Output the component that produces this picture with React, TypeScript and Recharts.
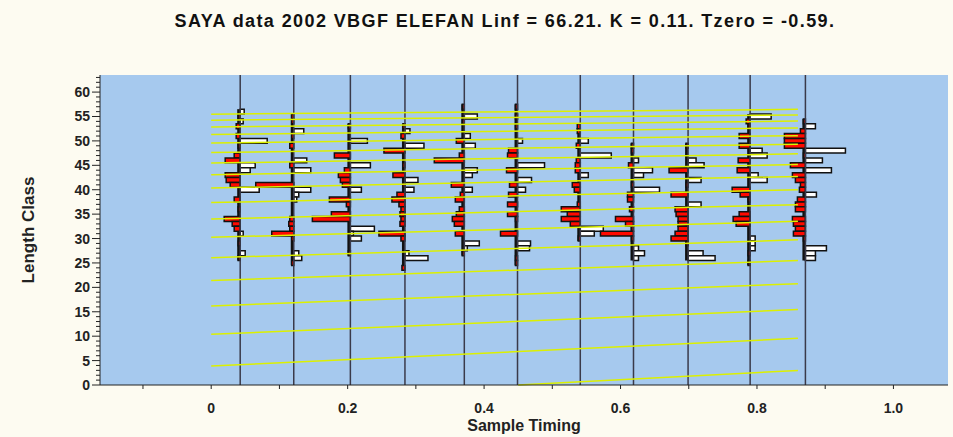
import React from 'react';
import { ComposedChart, XAxis, YAxis, CartesianGrid, ReferenceArea, ReferenceLine, Label } from 'recharts';

const PX_PER_UNIT = 682; // bar widths read in pixels, converted to x units

const sampleTimes = [0.0425, 0.121, 0.204, 0.284, 0.371, 0.449, 0.541, 0.619, 0.699, 0.79, 0.871];

// [length class, restructured score in px] negative = red (left), positive = white (right)
const s1 = [[56,4],[55,-2],[54,3],[53,-4],[51,-4],[50,27],[49,-2],[47,-6],[46,-15],[45,15],[44,10],[43,-15],[42,-14],[41,-10],[40,19],[38,-6],[36,-2],[34,-16],[33,-8],[32,-6],[31,3],[29,-2],[27,5],[26,-2]];
const s2 = [[55,-2],[54,-2],[52,10],[51,-2],[49,-4],[46,13],[45,-4],[44,17],[41,-38],[40,17],[39,5],[38,3],[34,-4],[33,-5],[32,-4],[31,-22],[30,-2],[27,5],[26,8],[25,-2]];
const s3 = [[53,-2],[50,17],[47,-16],[45,20],[44,-6],[43,-12],[42,-10],[41,-8],[40,11],[38,-21],[37,-4],[35,-19],[34,-38],[32,24],[31,3],[30,11],[27,-2]];
const s4 = [[53,-2],[52,5],[51,-4],[49,19],[48,-21],[45,-2],[43,-12],[42,13],[41,-2],[40,9],[39,-8],[38,-13],[37,-6],[36,-4],[35,-5],[34,-4],[33,-5],[31,-26],[30,-4],[27,4],[26,23],[24,-3]];
const s5 = [[57,-2],[55,13],[54,-2],[51,6],[50,-8],[49,11],[47,-5],[46,-30],[44,13],[43,8],[41,-13],[40,8],[39,-4],[38,-9],[36,-5],[35,-8],[34,-12],[33,-10],[31,-9],[29,15],[28,3],[27,-2]];
const s6 = [[57,-2],[55,-2],[53,-2],[50,5],[48,-9],[47,-10],[45,27],[44,-11],[42,14],[41,-8],[40,8],[39,-9],[37,-10],[35,-10],[34,-2],[31,-17],[29,13],[28,12],[26,-2],[25,-2]];
const s7 = [[53,-3],[52,-3],[50,8],[49,-4],[47,31],[46,-4],[45,-5],[44,-5],[43,8],[41,-8],[40,-6],[37,-3],[36,-19],[35,-13],[34,-19],[33,-10],[32,23],[31,14],[30,-2]];
const s8 = [[49,-2],[48,-2],[46,5],[45,-5],[44,19],[43,10],[41,-2],[40,26],[39,-6],[38,-6],[36,-4],[34,-18],[33,-8],[32,-2],[31,-33],[30,-2],[28,5],[27,11],[26,5]];
const s9 = [[49,-2],[46,8],[45,16],[44,-19],[42,13],[41,-2],[39,-17],[37,13],[36,-13],[35,-12],[34,-10],[33,-10],[32,-10],[31,-13],[30,-17],[29,-2],[27,15],[26,27]];
const s10 = [[55,21],[54,-4],[53,-2],[51,-11],[49,-11],[48,12],[47,17],[46,-12],[44,-13],[43,8],[42,17],[40,-18],[39,-10],[38,-2],[35,-11],[34,-17],[33,-14],[30,5],[29,5],[28,5],[27,-2],[25,-2]];
const s11 = [[54,-2],[53,10],[52,-5],[51,-21],[50,-21],[49,-21],[48,40],[47,-2],[46,17],[45,-15],[44,26],[43,-13],[42,-10],[41,-5],[40,-6],[39,11],[38,-8],[37,-10],[36,-10],[34,-13],[33,-12],[32,-10],[31,-12],[30,-2],[28,21],[27,10],[26,10]];
const samples = [s1, s2, s3, s4, s5, s6, s7, s8, s9, s10, s11];

// VBGF cohort segments: length at start and end time of each visible segment
const curveStartT = [0.45, 0, 0, 0, 0, 0, 0, 0, 0, 0, 0, 0, 0, 0, 0, 0, 0, 0];
const curveStartL = [0, 3.89, 10.38, 16.19, 21.41, 26.07, 30.25, 34.0, 37.36, 40.36, 43.05, 45.46, 47.62, 49.56, 51.29, 52.85, 54.24, 55.48];
const curveEndL = [2.99, 9.57, 15.47, 20.76, 25.49, 29.73, 33.54, 36.94, 39.99, 42.72, 45.16, 47.35, 49.32, 51.08, 52.66, 54.07, 55.33, 56.46];
const curveEndT = 0.86;

const xTicks = [-0.1, 0, 0.1, 0.2, 0.3, 0.4, 0.5, 0.6, 0.7, 0.8, 0.9, 1.0];
const xLabels = ['0', '0.2', '0.4', '0.6', '0.8', '1.0'];
const yTicks = Array.from({ length: 64 }, (_, i) => i);

const font = 'Arial, "Liberation Sans", sans-serif';

const YTick = (props: any) => {
  const { x, y, payload } = props;
  const major = payload.value % 5 === 0;
  return (
    <g>
      <line x1={x + (major ? 0 : 4)} x2={x + 8} y1={y} y2={y} stroke="#222" strokeWidth={1} />
      {major && (
        <text x={x - 2} y={y} dy={5} textAnchor="end" fontSize={14} fontWeight="bold" fill="#222" fontFamily={font}>
          {payload.value}
        </text>
      )}
    </g>
  );
};

const XTick = (props: any) => {
  const { x, y, payload } = props;
  const r = Math.round(payload.value * 10);
  const label = r >= 0 && r % 2 === 0 ? (r === 10 ? '1.0' : r === 0 ? '0' : (r / 10).toString()) : null;
  return (
    <g>
      <line x1={x} x2={x} y1={y - 8} y2={y - 4} stroke="#222" />
      {label && xLabels.includes(label) && (
        <text x={x} y={y} dy={20} textAnchor="middle" fontSize={14} fontWeight="bold" fill="#222" fontFamily={font}>
          {label}
        </text>
      )}
    </g>
  );
};

export default function App() {
  return (
    <div style={{ position: 'absolute', left: 0, top: 0, width: 953, height: 437, background: '#fdfbf1' }}>
      <div style={{ position: 'absolute', left: 0, top: 11, width: 1010, textAlign: 'center', fontFamily: font, fontWeight: 'bold', fontSize: 18, letterSpacing: 1.4, color: '#111' }}>
        SAYA data 2002 VBGF ELEFAN Linf = 66.21. K = 0.11. Tzero = -0.59.
      </div>
      <ComposedChart width={953} height={437} margin={{ top: 75, right: 5, left: 0, bottom: 0 }}>
        <CartesianGrid fill="#a6c9ee" horizontal={false} vertical={false} stroke="none" />
        <XAxis type="number" dataKey="x" domain={[-0.163, 1.08]} ticks={xTicks} tick={<XTick />} tickLine={false} height={52} axisLine={{ stroke: '#222' }} allowDataOverflow>
          <Label value="Sample Timing" position="insideBottom" offset={6} style={{ fontFamily: font, fontWeight: 'bold', fontSize: 16, fill: '#222' }} />
        </XAxis>
        <YAxis type="number" domain={[0, 63.5]} ticks={yTicks} tick={<YTick />} tickLine={false} width={100} axisLine={{ stroke: '#222' }} allowDataOverflow interval={0}>
          <Label value="Length Class" angle={-90} position="insideLeft" offset={28} style={{ fontFamily: font, fontWeight: 'bold', fontSize: 17, fill: '#222', textAnchor: 'middle' }} />
        </YAxis>
        {sampleTimes.map((t, i) => (
          <ReferenceLine key={'v' + i} x={t} stroke="#3a3a4a" strokeWidth={1.5} />
        ))}
        {samples.map((s, i) => {
          const t = sampleTimes[i];
          const ls = s.map((d) => d[0]);
          const lo = Math.min(...ls);
          const hi = Math.max(...ls);
          return (
            <ReferenceArea key={'c' + i} x1={t - 3 / PX_PER_UNIT} x2={t} y1={lo - 0.5} y2={hi + 0.5} fill="#111" fillOpacity={1} stroke="none" />
          );
        })}
        {samples.flatMap((s, i) =>
          s.map(([L, w], j) => {
            const t = sampleTimes[i];
            const dx = w / PX_PER_UNIT;
            return (
              <ReferenceArea
                key={`b${i}-${j}`}
                x1={Math.min(t, t + dx)}
                x2={Math.max(t, t + dx)}
                y1={L - 0.5}
                y2={L + 0.5}
                fill={w < 0 ? '#ff0a00' : '#ffffff'}
                fillOpacity={1}
                stroke="#111"
                strokeWidth={1.5}
              />
            );
          })
        )}
        {curveStartL.map((l0, i) => (
          <ReferenceLine
            key={'g' + i}
            segment={[{ x: curveStartT[i], y: l0 }, { x: curveEndT, y: curveEndL[i] }]}
            stroke="#dcf000"
            strokeWidth={1.5}
          />
        ))}
      </ComposedChart>
    </div>
  );
}
